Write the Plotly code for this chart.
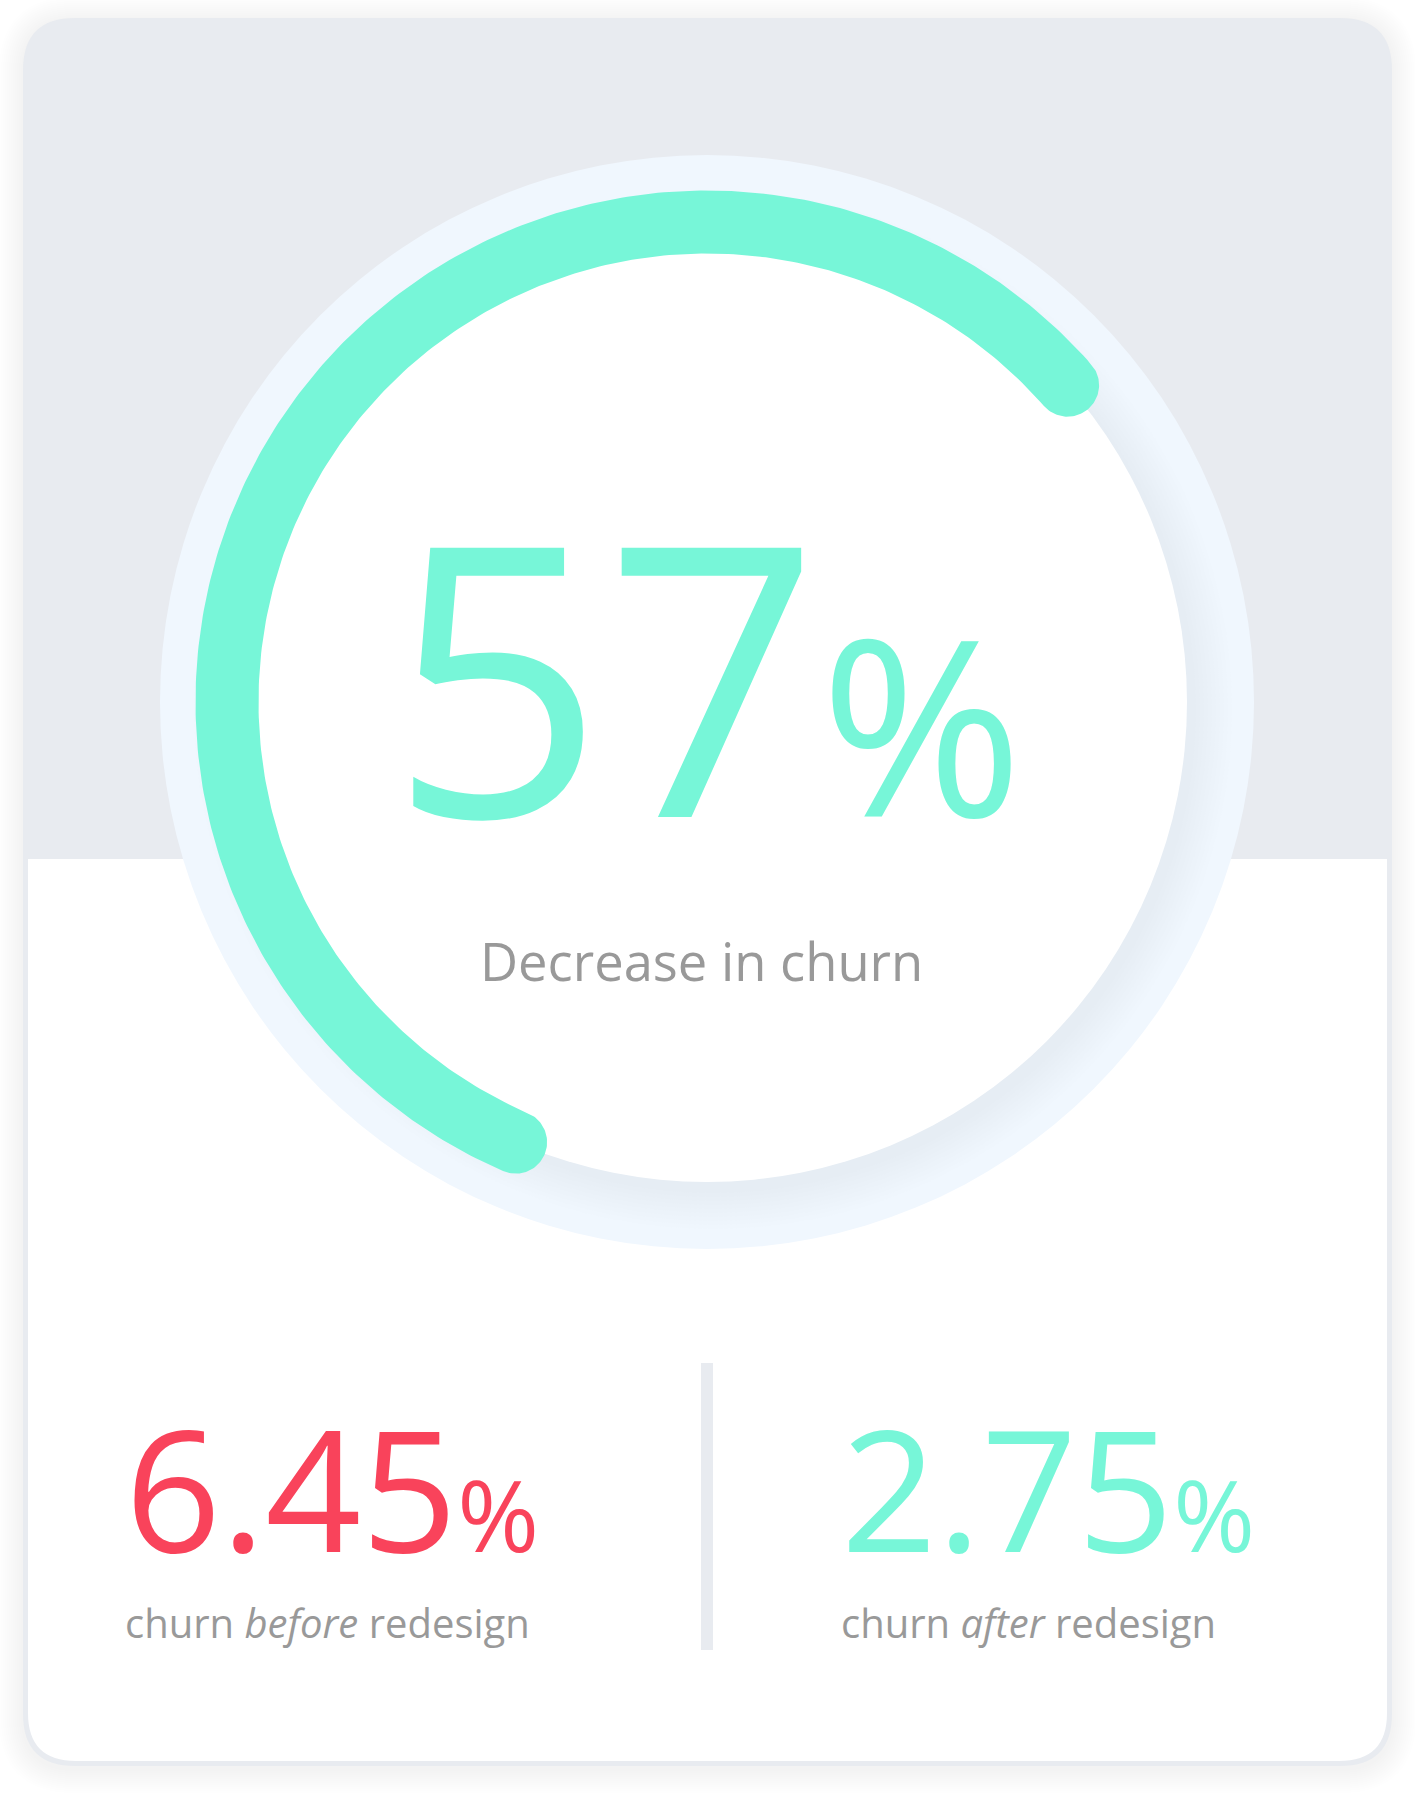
import numpy as np
import plotly.graph_objects as go

# ---------------- data ----------------
DECREASE_PCT = 57
BEFORE_PCT = 6.45
AFTER_PCT = 2.75
HEADLINE_LABEL = "Decrease in churn"
BEFORE_LABEL = ["churn ", "before", " redesign"]
AFTER_LABEL = ["churn ", "after", " redesign"]

# ---------------- style ----------------
W, H = 1415, 1797
TEAL = "#77F6D8"
RED = "#F9435B"
GRAY_TEXT = "#999999"
CARD_GRAY = "#E8EBF0"
RING = "#F0F7FE"
FONT = "Open Sans"

CX, CY = 707, 702
R_DISC = 480
R_RING = 547
ARC_W = 63
START_DEG = 246.5  # math angle where the gauge starts (lower left), sweeps clockwise


def rrect(x0, y0, x1, y1, rt, rb):
    p = f"M {x0+rt},{y0} L {x1-rt},{y0} "
    p += f"Q {x1},{y0} {x1},{y0+rt} " if rt else ""
    p += f"L {x1},{y1-rb} "
    p += f"Q {x1},{y1} {x1-rb},{y1} " if rb else ""
    p += f"L {x0+rb},{y1} "
    p += f"Q {x0},{y1} {x0},{y1-rb} " if rb else ""
    p += f"L {x0},{y0+rt} "
    p += f"Q {x0},{y0} {x0+rt},{y0} Z" if rt else "Z"
    return p


shapes = []
# card shadow
for i in range(12):
    e = 2 + i * 2
    shapes.append(dict(type="path", path=rrect(23 - e, 21 - e, 1392 + e, 1769 + e, 52 + e, 52 + e),
                       fillcolor="rgba(70,80,100,0.008)", line_width=0, layer="below"))
# card
shapes.append(dict(type="path", path=rrect(23, 18, 1392, 1766, 52, 52),
                   fillcolor=CARD_GRAY, line_width=0, layer="below"))
shapes.append(dict(type="path", path=rrect(28, 859, 1387, 1761, 0, 48),
                   fillcolor="white", line_width=0, layer="below"))
# ring
shapes.append(dict(type="circle", x0=CX - R_RING, x1=CX + R_RING, y0=CY - R_RING, y1=CY + R_RING,
                   fillcolor=RING, line_width=0, layer="below"))
# disc shadow
for i in range(10):
    r = R_DISC + 3 + i * 4
    shapes.append(dict(type="circle", x0=CX + 6 - r, x1=CX + 6 + r, y0=CY + 8 - r, y1=CY + 8 + r,
                       fillcolor="rgba(205,214,228,0.028)", line_width=0, layer="below"))
# disc
shapes.append(dict(type="circle", x0=CX - R_DISC, x1=CX + R_DISC, y0=CY - R_DISC, y1=CY + R_DISC,
                   fillcolor="white", line_width=0, layer="below"))
# divider
shapes.append(dict(type="rect", x0=701, x1=713, y0=1363, y1=1650,
                   fillcolor=CARD_GRAY, line_width=0, layer="below"))

# gauge arc polygon derived from the value
sweep = DECREASE_PCT / 100 * 360
a0 = np.radians(START_DEG)
a1 = np.radians(START_DEG - sweep)
ro, ri, hw = R_DISC + ARC_W / 2, R_DISC - ARC_W / 2, ARC_W / 2
t = np.linspace(a0, a1, 300)
xs = list(CX + ro * np.cos(t))
ys = list(CY - ro * np.sin(t))
ecx, ecy = CX + R_DISC * np.cos(a1), CY - R_DISC * np.sin(a1)
c = np.linspace(a1, a1 - np.pi, 60)
xs += list(ecx + hw * np.cos(c))
ys += list(ecy - hw * np.sin(c))
t2 = np.linspace(a1, a0, 300)
xs += list(CX + ri * np.cos(t2))
ys += list(CY - ri * np.sin(t2))
scx, scy = CX + R_DISC * np.cos(a0), CY - R_DISC * np.sin(a0)
c = np.linspace(a0 + np.pi, a0, 60)
xs += list(scx + hw * np.cos(c))
ys += list(scy - hw * np.sin(c))

fig = go.Figure()
fig.add_trace(go.Scatter(x=xs, y=ys, fill="toself", fillcolor=TEAL, mode="lines",
                         line=dict(width=0, color=TEAL), hoverinfo="skip", showlegend=False))

ann = []
ann.append(dict(x=389, y=927, xanchor="left", yanchor="bottom",
                text=f"{DECREASE_PCT}<span style='font-size:245px'>%</span>",
                font=dict(family=FONT, size=377, color=TEAL)))
ann.append(dict(x=701, y=996, xanchor="center", yanchor="bottom",
                text=HEADLINE_LABEL,
                font=dict(family=FONT, size=52.5, color=GRAY_TEXT)))
ann.append(dict(x=125, y=1601, xanchor="left", yanchor="bottom",
                text=f"{BEFORE_PCT:.2f}<span style='font-size:99px'>%</span>",
                font=dict(family=FONT, size=168, color=RED)))
ann.append(dict(x=841, y=1601, xanchor="left", yanchor="bottom",
                text=f"{AFTER_PCT:.2f}<span style='font-size:99px'>%</span>",
                font=dict(family=FONT, size=168, color=TEAL)))
ann.append(dict(x=125, y=1650, xanchor="left", yanchor="bottom",
                text=f"{BEFORE_LABEL[0]}<i>{BEFORE_LABEL[1]}</i>{BEFORE_LABEL[2]}",
                font=dict(family=FONT, size=40, color=GRAY_TEXT)))
ann.append(dict(x=841, y=1650, xanchor="left", yanchor="bottom",
                text=f"{AFTER_LABEL[0]}<i>{AFTER_LABEL[1]}</i>{AFTER_LABEL[2]}",
                font=dict(family=FONT, size=40, color=GRAY_TEXT)))
for a in ann:
    a.update(showarrow=False, borderpad=0, borderwidth=0, xref="x", yref="y")

fig.update_layout(
    width=W, height=H, margin=dict(l=0, r=0, t=0, b=0),
    paper_bgcolor="white", plot_bgcolor="white",
    xaxis=dict(range=[0, W], visible=False, fixedrange=True),
    yaxis=dict(range=[H, 0], visible=False, fixedrange=True),
    shapes=shapes, annotations=ann, showlegend=False,
)
fig.write_html("out.html", config={"displayModeBar": False})
